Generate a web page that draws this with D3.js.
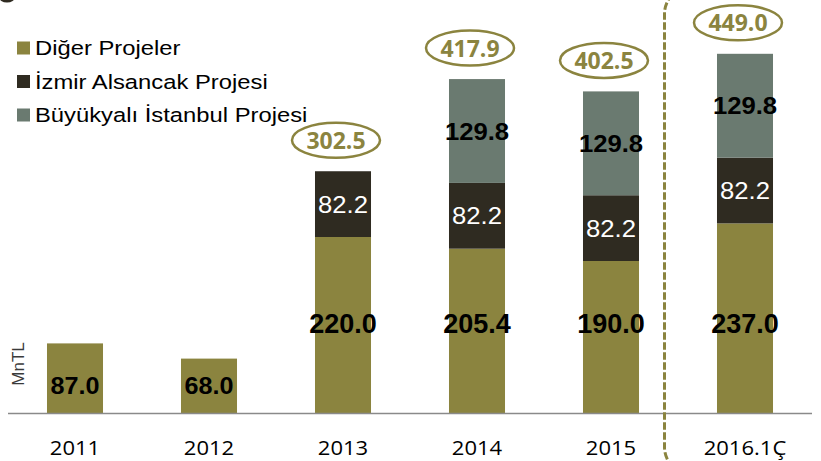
<!DOCTYPE html>
<html><head><meta charset="utf-8">
<script src="https://cdn.jsdelivr.net/npm/d3@7"></script>
<style>html,body{margin:0;padding:0;background:#fff;}svg{display:block;}</style>
</head><body>
<script>
const categories = ["2011","2012","2013","2014","2015","2016.1Ç"];
const digerValues = [87.0, 68.0, 220.0, 205.4, 190.0, 237.0];
const izmirValues = [0, 0, 82.2, 82.2, 82.2, 82.2];
const buyukyaliValues = [0, 0, 0, 129.8, 129.8, 129.8];
const totalLabels = [null, null, 302.5, 417.9, 402.5, 449.0];
const seriesNames = ["Diğer Projeler", "İzmir Alsancak Projesi", "Büyükyalı İstanbul Projesi"];
const yAxisTitle = "MnTL";

const W = 821, H = 461;
const colors = {diger: "#8b843f", izmir: "#2f2b21", buyuk: "#6a7a70"};
const accent = "#8b843f";

const svg = d3.select("body").append("svg").attr("width", W).attr("height", H);

const x = d3.scaleBand().domain(categories).range([8, 812]).paddingInner(0.582).paddingOuter(0.291);
const y = d3.scaleLinear().domain([0, 500]).range([413, 13]);

const table = categories.map((c, i) => ({cat: c, diger: digerValues[i], izmir: izmirValues[i], buyuk: buyukyaliValues[i], total: totalLabels[i]}));
const keys = ["diger", "izmir", "buyuk"];
const stacked = d3.stack().keys(keys)(table);

function stext(g, tx, ty, sx, str) {
  return g.append("text").attr("transform", `translate(${tx},${ty}) scale(${sx},1)`).text(str);
}

// top-left decoration
svg.append("ellipse").attr("cx", 7).attr("cy", -3).attr("rx", 8).attr("ry", 5.5).attr("fill", "#2f2b21");

// bars
const layers = svg.append("g").selectAll("g").data(stacked).join("g").attr("fill", d => colors[d.key]);
layers.selectAll("rect").data(d => d.filter(s => s[1] - s[0] > 0)).join("rect")
  .attr("x", d => x(d.data.cat)).attr("width", x.bandwidth())
  .attr("y", d => y(d[1])).attr("height", d => y(d[0]) - y(d[1]));

// segment labels
const lab = svg.append("g").attr("text-anchor", "middle").attr("font-family", "'Liberation Sans', Arial, sans-serif");
stacked.forEach(layer => {
  layer.forEach(s => {
    const v = s[1] - s[0];
    if (v <= 0) return;
    const cx = x(s.data.cat) + x.bandwidth() / 2;
    const segH = y(s[0]) - y(s[1]);
    if (layer.key === "diger") {
      const big = segH > 100;
      const fs = big ? 27 : 24;
      const by = big ? y(0) - 80 : y(0) - 19;
      stext(lab, cx, by, big ? 1.0 : 1.05, v.toFixed(1)).attr("font-size", fs).attr("font-weight", "bold").attr("fill", "#000");
    } else {
      const cy = (y(s[0]) + y(s[1])) / 2 + 8.5;
      const t = stext(lab, cx, cy, 1.07, v.toFixed(1)).attr("font-size", 24);
      if (layer.key === "izmir") t.attr("fill", "#fff");
      else t.attr("fill", "#000").attr("font-weight", "bold");
    }
  });
});

// axis line
svg.append("line").attr("x1", 8).attr("x2", 812).attr("y1", 413.5).attr("y2", 413.5).attr("stroke", "#8a8a8a").attr("stroke-width", 1.5);

// x axis labels
const xl = svg.append("g").attr("text-anchor", "middle").attr("font-family", "'Open Sans', sans-serif").attr("font-size", 19.5).attr("fill", "#000");
categories.forEach(c => stext(xl, x(c) + x.bandwidth() / 2, 455, 1.13, c));

// totals ovals
const ov = svg.append("g");
table.filter(d => d.total != null).forEach(d => {
  const cx = x(d.cat) + x.bandwidth() / 2 - 7;
  const cy = y(d.diger + d.izmir + d.buyuk) - 31;
  ov.append("ellipse").attr("cx", cx).attr("cy", cy).attr("rx", 44).attr("ry", 17.5)
    .attr("fill", "none").attr("stroke", accent).attr("stroke-width", 2.5);
  stext(ov, cx, cy + 8.5, 1.0, d.total.toFixed(1)).attr("text-anchor", "middle")
    .attr("font-family", "'Open Sans', sans-serif").attr("font-weight", "bold").attr("font-size", 23).attr("fill", accent);
});

// dashed rounded rectangle highlighting the last period
svg.append("rect").attr("x", 664.5).attr("y", -14).attr("width", 320).attr("height", 489).attr("rx", 28).attr("ry", 28)
  .attr("fill", "none").attr("stroke", accent).attr("stroke-width", 3).attr("stroke-dasharray", "7.5,2.5");

// legend
const lg = svg.append("g").attr("font-family", "'Liberation Sans', Arial, sans-serif").attr("font-size", 19.5).attr("fill", "#000");
keys.forEach((k, i) => {
  const cy = 48 + i * 33.5;
  lg.append("rect").attr("x", 17).attr("y", cy - 6.5).attr("width", 13).attr("height", 13).attr("fill", colors[k]);
  stext(lg, 35, cy + 7, 1.22, seriesNames[i]);
});

// y axis title
svg.append("text").attr("transform", "translate(24,364) rotate(-90)").attr("text-anchor", "middle")
  .attr("font-family", "'Liberation Sans', Arial, sans-serif").attr("font-size", 17).attr("fill", "#3a3a3a").text(yAxisTitle);
</script>
</body></html>
